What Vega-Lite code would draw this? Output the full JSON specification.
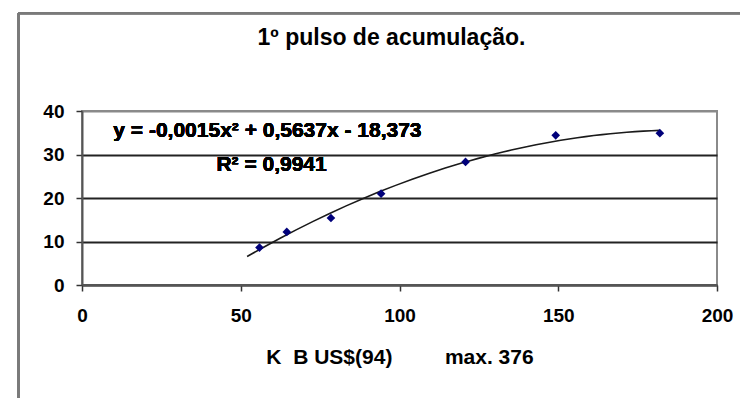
{
  "$schema": "https://vega.github.io/schema/vega-lite/v6.json",
  "autosize": {"type": "none"},
  "width": 635,
  "height": 174,
  "padding": {"left": 82, "top": 111, "right": 23, "bottom": 113},
  "background": "white",
  "title": {
    "text": "1º pulso de acumulação.",
    "font": "Liberation Sans",
    "fontSize": 23,
    "fontWeight": "bold",
    "color": "#000000",
    "anchor": "middle",
    "offset": -38,
    "dx": -8
  },
  "config": {
    "view": {"stroke": "#8a8a8a", "strokeWidth": 2},
    "axis": {
      "labelFont": "Liberation Sans",
      "labelFontSize": 19,
      "labelFontWeight": "bold",
      "labelColor": "#000000",
      "titleFont": "Liberation Sans",
      "titleFontSize": 21,
      "titleFontWeight": "bold",
      "titleColor": "#000000",
      "domainColor": "#555555",
      "domainWidth": 2,
      "tickColor": "#333333",
      "tickWidth": 1.5,
      "tickSize": 6
    }
  },
  "data": {
    "values": [
      {"x": 55.9, "y": 8.6},
      {"x": 64.5, "y": 12.2},
      {"x": 78.4, "y": 15.4},
      {"x": 94.2, "y": 21.0},
      {"x": 120.8, "y": 28.3},
      {"x": 149.2, "y": 34.4},
      {"x": 182.0, "y": 34.9}
    ]
  },
  "encoding": {
    "x": {
      "field": "x",
      "type": "quantitative",
      "scale": {"domain": [0, 200], "nice": false, "zero": false},
      "axis": {
        "values": [0, 50, 100, 150, 200],
        "grid": false,
        "labelPadding": 15,
        "labelFlush": false,
        "title": "K\u00a0\u00a0B US$(94)\u00a0\u00a0\u00a0\u00a0\u00a0\u00a0\u00a0\u00a0\u00a0max. 376",
        "titlePadding": 21
      }
    },
    "y": {
      "field": "y",
      "type": "quantitative",
      "scale": {"domain": [0, 40], "nice": false, "zero": false},
      "axis": {
        "values": [0, 10, 20, 30, 40],
        "grid": true,
        "gridColor": {"condition": {"test": "datum.value >= 40", "value": "#8a8a8a"}, "value": "#222222"},
        "gridWidth": 2,
        "labelPadding": 12,
        "labelFlush": false,
        "title": null
      }
    }
  },
  "layer": [
    {
      "mark": {"type": "line", "color": "#1a1a1a", "strokeWidth": 1.6},
      "transform": [
        {"regression": "y", "on": "x", "method": "poly", "order": 2, "extent": [52, 182]}
      ],
      "encoding": {}
    },
    {
      "mark": {"type": "point", "shape": "diamond", "filled": true, "color": "#00007a", "size": 75, "opacity": 1}
    },
    {
      "mark": {"type": "text", "font": "Liberation Sans", "fontSize": 21, "fontWeight": "bold", "color": "#000000", "align": "center", "baseline": "middle"},
      "encoding": {
        "x": {"datum": 58.4},
        "y": {"datum": 35.5},
        "text": {"value": "y = -0,0015x² + 0,5637x - 18,373"}
      }
    },
    {
      "mark": {"type": "text", "font": "Liberation Sans", "fontSize": 21, "fontWeight": "bold", "color": "#000000", "align": "center", "baseline": "middle"},
      "encoding": {
        "x": {"datum": 59.7},
        "y": {"datum": 27.6},
        "text": {"value": "R² = 0,9941"}
      }
    },
    {
      "mark": {"type": "rule", "color": "#7a7a7a", "strokeWidth": 2},
      "encoding": {
        "x": {"datum": -20},
        "y": {"datum": 62.5},
        "y2": {"datum": -30}
      }
    },
    {
      "mark": {"type": "rule", "color": "#7a7a7a", "strokeWidth": 2},
      "encoding": {
        "y": {"datum": 62.5},
        "x": {"datum": -20},
        "x2": {"datum": 215}
      }
    }
  ]
}
